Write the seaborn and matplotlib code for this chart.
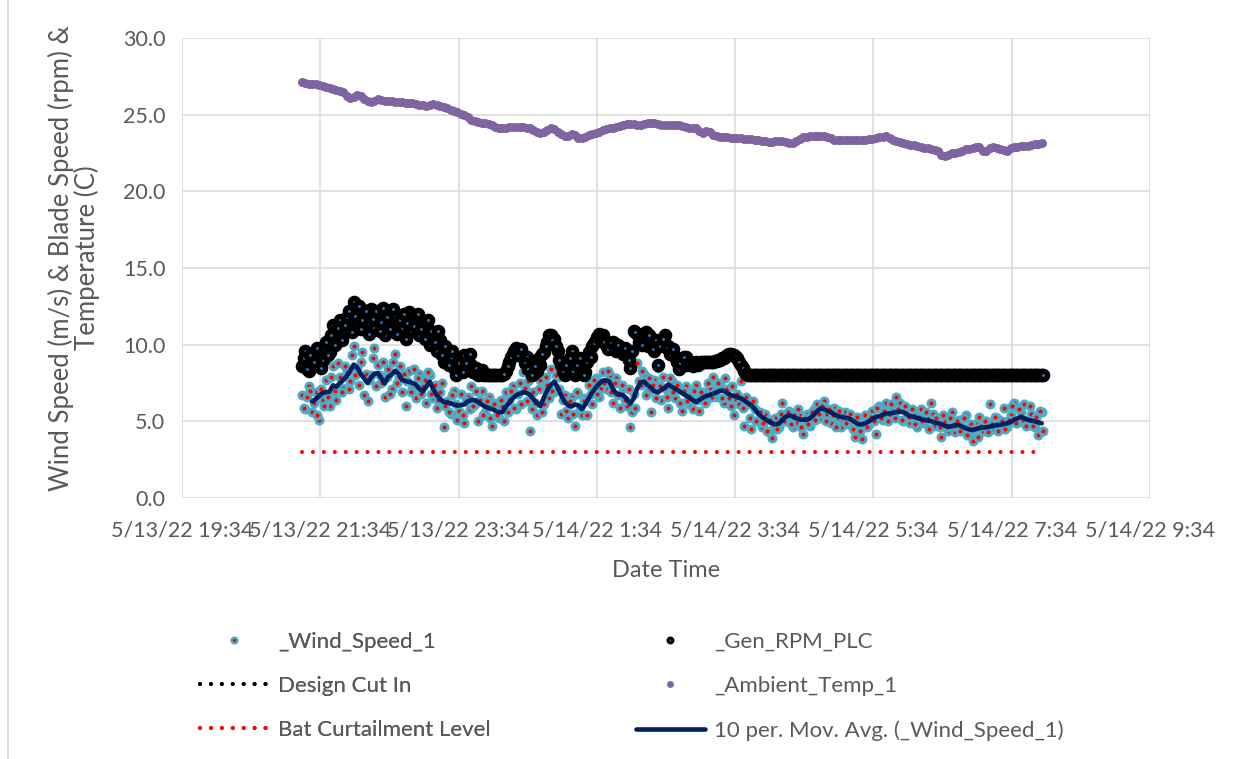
import matplotlib.pyplot as plt
import pandas as pd
import seaborn as sns
from matplotlib.lines import Line2D
from matplotlib.patches import Rectangle

# readings every 3 minutes from 5/13/22 21:18 to 5/14/22 8:00,
# second set of readings sits 1.5 minutes later
start_time = '2022-05-13 21:18'
start_time_b = '2022-05-13 21:19:30'
ma_start = '2022-05-13 21:27'
step = '3min'

wind_speed = [
    6.7, 5.8, 7.3, 5.6, 6.9, 5.1, 6.4, 7.7, 6.0, 8.6,
    6.4, 7.9, 7.2, 8.3, 7.6, 9.9, 8.5, 8.9, 6.7, 6.3,
    8.0, 9.8, 8.7, 7.5, 6.6, 8.4, 7.1, 9.4, 7.9, 6.9,
    6.0, 8.3, 7.1, 6.5, 8.1, 7.3, 6.2, 8.0, 6.5, 5.9,
    6.9, 4.6, 6.3, 5.5, 7.0, 5.1, 6.8, 4.9, 6.6, 7.3,
    6.1, 5.0, 7.0, 5.6, 6.6, 4.7, 6.2, 5.2, 6.0, 6.9,
    6.4, 7.3, 5.8, 7.5, 8.2, 6.3, 4.4, 6.9, 5.4, 7.7,
    6.1, 7.4, 8.4, 6.9, 7.9, 5.5, 6.7, 5.2, 6.6, 4.7,
    6.8, 5.4, 6.5, 7.4, 6.1, 7.8, 6.6, 8.2, 7.1, 8.0,
    6.2, 7.8, 5.9, 7.2, 6.0, 4.6, 6.8, 8.8, 7.4, 8.1,
    6.9, 5.6, 7.7, 8.5, 6.4, 7.2, 5.9, 7.6, 6.5, 7.1,
    5.7, 7.3, 6.1, 5.8, 7.4, 5.7, 6.9, 6.3, 7.2, 7.9,
    6.6, 7.4, 6.2, 7.1, 6.0, 5.4, 6.8, 7.6, 4.7, 6.1,
    4.5, 5.8, 5.0, 4.6, 5.5, 4.3, 3.9, 5.2, 4.6, 6.2,
    5.0, 5.7, 4.6, 4.9, 5.4, 4.2, 5.5, 4.7, 5.8, 6.1,
    5.2, 6.3, 5.5, 4.9, 5.9, 5.2, 4.6, 5.6, 4.8, 5.3,
    3.95, 5.0, 3.85, 5.4, 4.8, 5.7, 4.2, 6.0, 5.1, 6.2,
    5.4, 5.9, 6.6, 6.2, 5.0, 5.6, 4.9, 5.5, 4.6, 5.8,
    4.9, 5.3, 6.2, 4.7, 5.2, 4.0, 5.0, 4.4, 5.6, 4.3,
    5.1, 4.6, 5.4, 4.2, 3.7, 4.8, 5.3, 4.4, 5.0, 6.1,
    4.5, 5.2, 4.7, 5.9, 4.6, 5.4, 6.2, 4.9, 5.6, 6.1,
    5.0, 5.5, 4.6, 4.1, 5.6,
]

wind_speed_b = [
    5.9, 6.6, 7.0, 6.2, 5.4, 7.1, 6.0, 6.6, 7.9, 7.0,
    8.8, 6.9, 8.6, 7.1, 9.3, 8.0, 7.4, 9.5, 8.1, 7.7,
    9.1, 7.3, 8.0, 8.9, 7.9, 6.8, 8.9, 7.5, 8.6, 8.1,
    7.6, 6.9, 8.4, 7.8, 6.8, 7.7, 8.2, 6.8, 7.4, 6.4,
    7.5, 6.0, 5.6, 6.7, 6.1, 5.7, 5.4, 6.3, 5.8, 6.0,
    7.0, 6.4, 5.4, 6.3, 5.2, 6.1, 5.4, 6.4, 5.0, 5.6,
    7.0, 5.9, 6.8, 6.1, 7.2, 7.6, 5.8, 6.2, 7.1, 5.6,
    7.9, 6.5, 7.0, 8.0, 7.1, 6.4, 5.7, 6.3, 5.5, 6.9,
    5.9, 6.3, 5.4, 6.8, 7.7, 6.8, 7.2, 7.5, 8.3, 6.9,
    7.5, 6.7, 7.4, 6.4, 7.1, 5.6, 5.9, 7.6, 8.3, 6.7,
    7.8, 7.4, 6.5, 7.3, 7.9, 6.6, 7.8, 6.9, 7.4, 6.2,
    7.0, 6.3, 6.8, 7.0, 6.4, 6.9, 6.2, 7.5, 6.6, 6.9,
    7.5, 6.5, 7.8, 6.5, 7.3, 6.4, 6.1, 5.9, 6.6, 5.2,
    6.3, 5.0, 5.6, 4.9, 4.4, 5.1, 4.7, 4.5, 5.5, 5.0,
    5.6, 4.8, 5.4, 5.8, 4.6, 5.2, 4.8, 5.6, 5.1, 5.5,
    6.0, 5.0, 5.8, 5.4, 4.6, 5.7, 5.0, 4.9, 5.5, 4.5,
    5.3, 4.4, 4.9, 4.6, 5.3, 5.0, 5.9, 5.2, 5.7, 5.0,
    6.1, 5.2, 5.8, 5.1, 6.0, 5.3, 5.8, 4.8, 5.3, 5.0,
    5.6, 4.5, 5.5, 5.2, 4.6, 5.4, 4.6, 5.2, 4.7, 5.0,
    4.4, 5.2, 4.1, 4.8, 4.5, 4.0, 4.7, 5.0, 4.3, 4.8,
    5.3, 4.4, 5.0, 4.5, 5.1, 6.0, 4.9, 5.8, 5.1, 4.7,
    6.0, 4.7, 5.3, 5.7, 4.4,
]

gen_rpm = [
    8.6, 9.6, 8.3, 9.2, 8.7, 9.7, 9.0, 10.2, 9.5, 11.3,
    10.4, 11.6, 10.9, 11.8, 11.2, 12.8, 12.1, 11.0, 11.8, 11.4,
    12.3, 11.1, 12.0, 11.5, 10.6, 12.1, 11.3, 11.9, 10.9, 11.1,
    10.4, 12.1, 11.5, 11.7, 10.6, 11.4, 11.3, 10.0, 10.6, 9.6,
    10.3, 8.9, 9.5, 9.1, 8.5, 8.2, 9.0, 9.3, 8.6, 8.7,
    8.2, 8.0, 8.35, 8.0, 8.0, 8.0, 8.0, 8.0, 8.0, 8.3,
    8.9, 9.4, 9.8, 9.5, 9.3, 9.2, 8.6, 8.1, 8.3, 8.7,
    9.5, 10.2, 10.6, 10.4, 9.6, 8.7, 8.0, 8.5, 9.6, 8.0,
    8.4, 8.7, 8.2, 9.5, 9.9, 10.3, 10.7, 10.6, 10.0, 9.8,
    10.2, 9.6, 9.7, 9.4, 9.3, 8.5, 10.9, 10.7, 10.5, 10.4,
    9.9, 10.2, 9.6, 8.7, 10.1, 10.6, 9.9, 9.5, 9.2, 8.4,
    9.0, 9.2, 8.8, 8.6, 8.9, 8.8, 8.9, 8.85, 8.9, 8.9,
    8.95, 9.0, 9.1, 9.3, 9.4, 9.3, 9.1, 8.7, 8.3, 8.0,
] + [8.0] * 85

gen_rpm_b = [
    9.1, 8.4, 9.3, 8.9, 9.8, 8.5, 9.6, 9.3, 10.6, 10.0,
    11.1, 10.3, 11.3, 12.2, 10.8, 11.9, 12.5, 11.6, 12.2, 10.7,
    11.7, 12.2, 10.9, 12.4, 11.8, 11.0, 12.3, 10.7, 11.6, 12.0,
    11.4, 10.9, 11.2, 12.0, 11.0, 10.4, 11.6, 10.9, 10.2, 10.9,
    9.3, 9.9, 8.7, 9.6, 8.0, 8.8, 8.2, 8.8, 9.4, 8.2,
    8.5, 8.1, 8.0, 8.0, 8.0, 8.0, 8.0, 8.0, 8.1, 8.6,
    9.2, 9.6, 9.3, 9.7, 8.8, 8.4, 8.0, 8.6, 9.1, 9.4,
    9.9, 10.6, 10.3, 9.9, 9.0, 8.3, 8.7, 9.1, 8.3, 8.7,
    9.1, 8.0, 8.9, 9.2, 10.1, 10.5, 10.4, 10.2, 9.7, 10.1,
    9.8, 10.0, 9.5, 9.8, 9.0, 9.6, 10.8, 10.2, 10.0, 10.8,
    10.6, 9.7, 10.3, 9.9, 10.4, 9.8, 9.4, 9.7, 8.9, 8.8,
    9.2, 8.7, 8.9, 8.8, 8.7, 8.9, 8.9, 8.9, 8.85, 8.95,
    9.0, 9.1, 9.2, 9.4, 9.35, 9.2, 8.9, 8.5, 8.1, 8.0,
] + [8.0] * 85

ambient_temp = [
    27.1, 27.08, 27.02, 27.0, 26.97, 26.95, 26.88, 26.8, 26.72, 26.68,
    26.62, 26.57, 26.45, 26.25, 26.07, 26.15, 26.27, 26.22, 26.05, 25.9,
    25.85, 25.92, 26.0, 25.95, 25.9, 25.88, 25.87, 25.85, 25.83, 25.8,
    25.78, 25.77, 25.75, 25.7, 25.65, 25.6, 25.57, 25.65, 25.7, 25.6,
    25.55, 25.5, 25.42, 25.33, 25.26, 25.18, 25.05, 24.95, 24.85, 24.65,
    24.57, 24.52, 24.48, 24.45, 24.4, 24.3, 24.2, 24.13, 24.12, 24.15,
    24.17, 24.2, 24.22, 24.2, 24.17, 24.14, 24.12, 24.0, 23.87, 23.8,
    23.9, 24.02, 24.1, 24.05, 23.9, 23.75, 23.63, 23.62, 23.72, 23.68,
    23.5, 23.47, 23.55, 23.65, 23.74, 23.82, 23.9, 23.97, 24.04, 24.1,
    24.15, 24.22, 24.28, 24.35, 24.4, 24.38, 24.36, 24.34, 24.35, 24.4,
    24.45, 24.48, 24.45, 24.38, 24.33, 24.33, 24.34, 24.33, 24.33, 24.3,
    24.25, 24.2, 24.15, 24.12, 24.1, 23.95, 23.82, 23.92, 23.85, 23.65,
    23.6, 23.57, 23.55, 23.53, 23.5, 23.48, 23.47, 23.45, 23.43, 23.42,
    23.4, 23.37, 23.33, 23.3, 23.27, 23.24, 23.25, 23.27, 23.3, 23.31,
    23.25, 23.16, 23.16, 23.3, 23.42, 23.52, 23.57, 23.58, 23.59, 23.6,
    23.61, 23.6, 23.52, 23.45, 23.38, 23.35, 23.35, 23.35, 23.35, 23.35,
    23.35, 23.35, 23.36, 23.38, 23.39, 23.4, 23.45, 23.52, 23.57, 23.61,
    23.5, 23.38, 23.28, 23.22, 23.15, 23.1, 23.05, 23.02, 22.95, 22.88,
    22.83, 22.8, 22.75, 22.71, 22.65, 22.35, 22.32, 22.4, 22.48, 22.52,
    22.58, 22.66, 22.73, 22.78, 22.84, 22.9, 22.88, 22.6, 22.6, 22.85,
    22.92, 22.85, 22.77, 22.7, 22.66, 22.8, 22.9, 22.92, 22.94, 22.96,
    22.98, 23.03, 23.08, 23.11, 23.14,
]

# 10 per. moving average of the wind speed
wind_ma = [
    6.3, 6.45, 6.65, 6.85, 6.9, 6.93, 7.35,
    7.26, 7.5, 7.7, 7.95, 8.3, 8.7, 8.5, 8.1, 7.8, 7.5,
    7.85, 8.1, 8.15, 7.8, 7.48, 7.9, 8.05, 8.3, 8.1, 7.7,
    7.63, 7.58, 7.5, 7.4, 7.1, 6.95, 7.26, 7.59, 7.1, 6.72,
    6.45, 6.27, 6.22, 6.17, 6.1, 6.02, 6.05, 6.1, 6.3, 6.39,
    6.39, 6.25, 6.1, 5.96, 5.87, 5.8, 5.7, 5.6, 5.6, 5.95,
    6.2, 6.5, 6.7, 6.8, 6.9, 6.85, 6.72, 6.45, 6.2, 6.0,
    6.55, 7.05, 7.35, 7.59, 7.2, 6.7, 6.28, 6.05, 5.96, 6.1,
    6.05, 5.8, 6.1, 6.5, 6.9, 7.2, 7.45, 7.65, 7.68, 7.59,
    7.1, 6.8, 6.76, 6.7, 6.45, 6.15, 6.5, 7.16, 7.5, 7.6,
    7.35, 7.2, 6.95, 6.9, 7.05, 7.2, 7.4, 7.25, 7.12, 7.0,
    6.83, 6.7, 6.55, 6.4, 6.25, 6.4, 6.55, 6.65, 6.72, 6.8,
    6.9, 7.0, 7.0, 6.85, 6.72, 6.65, 6.58, 6.5, 6.35, 6.2,
    6.05, 5.8, 5.5, 5.3, 5.15, 5.0, 4.88, 4.8, 4.85, 5.1,
    5.3, 5.4, 5.3, 5.2, 5.12, 5.1, 5.09, 5.2, 5.4, 5.65,
    5.85, 5.8, 5.68, 5.6, 5.45, 5.35, 5.3, 5.25, 5.2, 5.1,
    4.95, 4.8, 4.8, 4.87, 5.0, 5.15, 5.28, 5.35, 5.42, 5.5,
    5.52, 5.55, 5.6, 5.62, 5.6, 5.45, 5.33, 5.3, 5.22, 5.15,
    5.1, 5.05, 5.0, 4.92, 4.88, 4.82, 4.72, 4.65, 4.68, 4.75,
    4.76, 4.65, 4.55, 4.48, 4.43, 4.5, 4.56, 4.6, 4.61, 4.66,
    4.7, 4.75, 4.78, 4.82, 4.87, 4.95, 5.1, 5.2, 5.3, 5.2,
    5.1, 5.05, 5.0, 4.93, 4.87,
]

bat_curtailment = [3.0] * len(wind_speed)

tick_times = ['2022-05-13 19:34', '2022-05-13 21:34', '2022-05-13 23:34',
              '2022-05-14 01:34', '2022-05-14 03:34', '2022-05-14 05:34',
              '2022-05-14 07:34', '2022-05-14 09:34']
tick_labels = ['5/13/22 19:34', '5/13/22 21:34', '5/13/22 23:34',
               '5/14/22 1:34', '5/14/22 3:34', '5/14/22 5:34',
               '5/14/22 7:34', '5/14/22 9:34']
y_ticks = [0, 5, 10, 15, 20, 25, 30]

teal = '#4BACC6'
purple = '#8064A2'
navy = '#002060'
text_grey = '#595959'
grid_grey = '#D9D9D9'

sns.set_theme(style='white')
plt.rcParams['font.family'] = ['Lato', 'DejaVu Sans']


def main():
    fig = plt.figure(figsize=(12.35, 7.59), dpi=100)
    ax = fig.add_axes([182 / 1235, 261 / 759, 968 / 1235, 460 / 759])

    times = pd.date_range(start_time, periods=len(wind_speed), freq=step)
    times_b = pd.date_range(start_time_b, periods=len(wind_speed_b), freq=step)
    ma_times = pd.date_range(ma_start, periods=len(wind_ma), freq=step)
    ticks = pd.to_datetime(tick_times)

    for t, w in [(times, wind_speed), (times_b, wind_speed_b)]:
        sns.scatterplot(x=t, y=w, ax=ax, s=26, color='red',
                        edgecolor=teal, linewidth=2.1, zorder=3)
    for t, r in [(times, gen_rpm), (times_b, gen_rpm_b)]:
        sns.scatterplot(x=t, y=r, ax=ax, s=36, color='#2E75B6',
                        edgecolor='black', linewidth=3.8, zorder=4)
    sns.scatterplot(x=times, y=ambient_temp, ax=ax, s=42, color=purple,
                    linewidth=0, zorder=5)
    sns.lineplot(x=times, y=bat_curtailment, ax=ax, color='red', lw=2.9,
                 linestyle=(0, (0.01, 2.7)), dash_capstyle='round', zorder=6)
    sns.lineplot(x=ma_times, y=wind_ma, ax=ax, color=navy, lw=3.3, zorder=7)

    ax.set_xlim(ticks[0], ticks[-1])
    ax.set_ylim(0, 30)
    ax.set_xticks(ticks)
    ax.set_xticklabels(tick_labels)
    ax.set_yticks(y_ticks)
    ax.set_yticklabels(['%.1f' % v for v in y_ticks])
    ax.tick_params(axis='both', length=0, labelsize=15.5, colors=text_grey)
    ax.tick_params(axis='y', pad=12)
    ax.tick_params(axis='x', pad=16)
    ax.grid(True, color=grid_grey, lw=1.1)
    for s in ax.spines.values():
        s.set_visible(False)

    ax.set_xlabel('Date Time', fontsize=17, color=text_grey)
    ax.xaxis.set_label_coords(0.5, -0.135)
    ax.set_ylabel('Wind Speed (m/s) & Blade Speed (rpm) &\nTemperature (C)',
                  fontsize=18.5, color=text_grey, linespacing=0.98)
    ax.yaxis.set_label_coords(-0.085, 0.522)

    # legend, two columns as in the original
    h_wind = Line2D([], [], ls='', marker='o', markersize=4, markerfacecolor='red',
                    markeredgecolor=teal, markeredgewidth=1.6)
    h_design = Line2D([], [], color='black', lw=2.9, linestyle=(0, (0.01, 2.7)),
                      dash_capstyle='round')
    h_bat = Line2D([], [], color='red', lw=2.9, linestyle=(0, (0.01, 2.7)),
                   dash_capstyle='round')
    h_rpm = Line2D([], [], ls='', marker='o', markersize=3.5, markerfacecolor='#2E75B6',
                   markeredgecolor='black', markeredgewidth=2.2)
    h_temp = Line2D([], [], ls='', marker='o', markersize=5, markerfacecolor=purple,
                    markeredgewidth=0)
    h_ma = Line2D([], [], color=navy, lw=3.3)

    common = dict(loc='upper left', frameon=False, fontsize=16, borderpad=0,
                  borderaxespad=0, handlelength=3.1, handletextpad=0.42,
                  labelspacing=1.08, labelcolor=text_grey)
    leg1 = fig.legend([h_wind, h_design, h_bat],
                      ['_Wind_Speed_1', 'Design Cut In', 'Bat Curtailment Level'],
                      bbox_to_anchor=(200 / 1235, 1 - 632 / 759), **common)
    fig.add_artist(leg1)
    fig.legend([h_rpm, h_temp, h_ma],
               ['_Gen_RPM_PLC', '_Ambient_Temp_1', '10 per. Mov. Avg. (_Wind_Speed_1)'],
               bbox_to_anchor=(636 / 1235, 1 - 632 / 759), **common)

    fig.patches.append(Rectangle((8 / 1235, -0.05), 1.2, 1.2, transform=fig.transFigure,
                                 fill=False, edgecolor=grid_grey, lw=1.2))

    plt.savefig('out.png', dpi=100)


if __name__ == '__main__':
    main()
